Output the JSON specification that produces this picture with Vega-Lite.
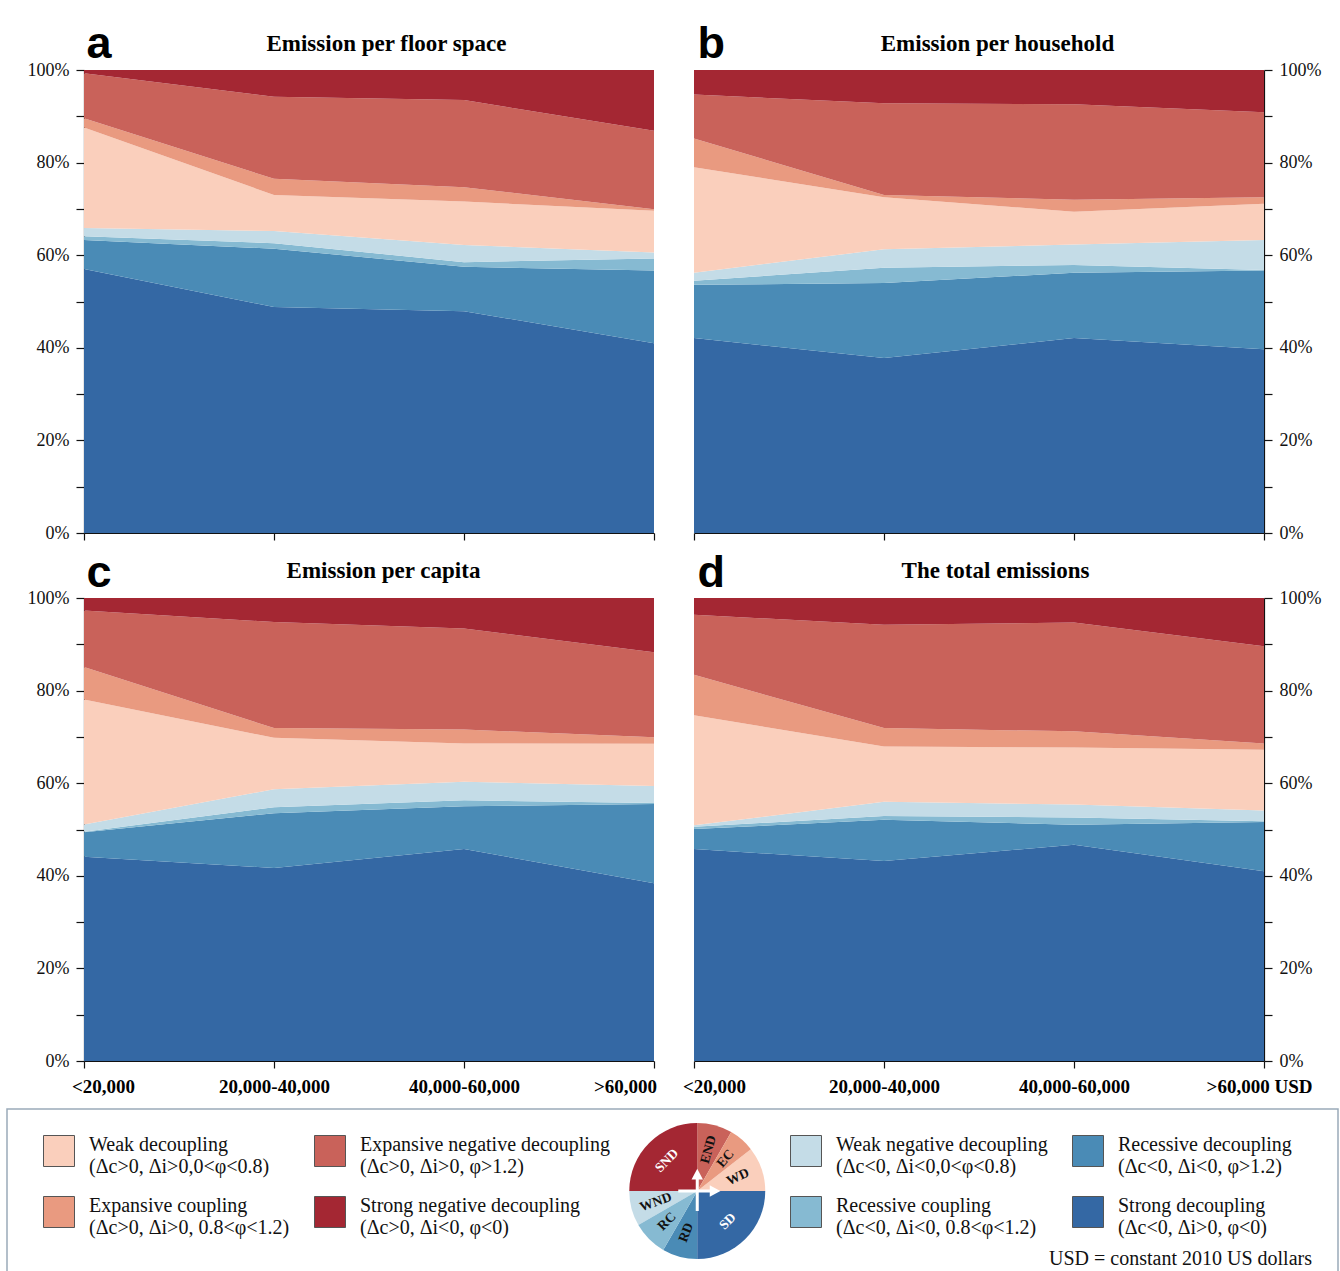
{
  "$schema": "https://vega.github.io/schema/vega-lite/v6.json",
  "background": "white",
  "padding": {"left": 6, "top": 21, "right": 0, "bottom": 0},
  "datasets": {
    "states": [
      {"code": "WD", "name": "Weak decoupling|(Δc>0, Δi>0,0<φ<0.8)", "k": 5, "pk": 3, "deg": 38},
      {"code": "END", "name": "Expansive negative decoupling|(Δc>0, Δi>0, φ>1.2)", "k": 7, "pk": 1, "deg": 30},
      {"code": "EC", "name": "Expansive coupling|(Δc>0, Δi>0, 0.8<φ<1.2)", "k": 6, "pk": 2, "deg": 22},
      {"code": "SND", "name": "Strong negative decoupling|(Δc>0, Δi<0, φ<0)", "k": 8, "pk": 8, "deg": 90},
      {"code": "WND", "name": "Weak negative decoupling|(Δc<0, Δi<0,0<φ<0.8)", "k": 4, "pk": 7, "deg": 30},
      {"code": "RD", "name": "Recessive decoupling|(Δc<0, Δi<0, φ>1.2)", "k": 2, "pk": 5, "deg": 30},
      {"code": "RC", "name": "Recessive coupling|(Δc<0, Δi<0, 0.8<φ<1.2)", "k": 3, "pk": 6, "deg": 30},
      {"code": "SD", "name": "Strong decoupling|(Δc<0, Δi>0, φ<0)", "k": 1, "pk": 4, "deg": 90}
    ],
    "panels": [
      {"p": "a", "inc": "<20,000", "s": "SD", "v": 57.0}, {"p": "a", "inc": "20,000-40,000", "s": "SD", "v": 48.8}, {"p": "a", "inc": "40,000-60,000", "s": "SD", "v": 47.9}, {"p": "a", "inc": ">60,000", "s": "SD", "v": 41.0},
      {"p": "a", "inc": "<20,000", "s": "RD", "v": 6.3}, {"p": "a", "inc": "20,000-40,000", "s": "RD", "v": 12.6}, {"p": "a", "inc": "40,000-60,000", "s": "RD", "v": 9.6}, {"p": "a", "inc": ">60,000", "s": "RD", "v": 15.7},
      {"p": "a", "inc": "<20,000", "s": "RC", "v": 0.8}, {"p": "a", "inc": "20,000-40,000", "s": "RC", "v": 1.2}, {"p": "a", "inc": "40,000-60,000", "s": "RC", "v": 1.0}, {"p": "a", "inc": ">60,000", "s": "RC", "v": 2.6},
      {"p": "a", "inc": "<20,000", "s": "WND", "v": 1.8}, {"p": "a", "inc": "20,000-40,000", "s": "WND", "v": 2.6}, {"p": "a", "inc": "40,000-60,000", "s": "WND", "v": 3.7}, {"p": "a", "inc": ">60,000", "s": "WND", "v": 1.3},
      {"p": "a", "inc": "<20,000", "s": "WD", "v": 21.7}, {"p": "a", "inc": "20,000-40,000", "s": "WD", "v": 7.8}, {"p": "a", "inc": "40,000-60,000", "s": "WD", "v": 9.4}, {"p": "a", "inc": ">60,000", "s": "WD", "v": 9.0},
      {"p": "a", "inc": "<20,000", "s": "EC", "v": 2.0}, {"p": "a", "inc": "20,000-40,000", "s": "EC", "v": 3.5}, {"p": "a", "inc": "40,000-60,000", "s": "EC", "v": 3.1}, {"p": "a", "inc": ">60,000", "s": "EC", "v": 0.3},
      {"p": "a", "inc": "<20,000", "s": "END", "v": 9.7}, {"p": "a", "inc": "20,000-40,000", "s": "END", "v": 17.7}, {"p": "a", "inc": "40,000-60,000", "s": "END", "v": 18.8}, {"p": "a", "inc": ">60,000", "s": "END", "v": 17.0},
      {"p": "a", "inc": "<20,000", "s": "SND", "v": 0.7}, {"p": "a", "inc": "20,000-40,000", "s": "SND", "v": 5.8}, {"p": "a", "inc": "40,000-60,000", "s": "SND", "v": 6.5}, {"p": "a", "inc": ">60,000", "s": "SND", "v": 13.1},

      {"p": "b", "inc": "<20,000", "s": "SD", "v": 42.1}, {"p": "b", "inc": "20,000-40,000", "s": "SD", "v": 37.8}, {"p": "b", "inc": "40,000-60,000", "s": "SD", "v": 42.1}, {"p": "b", "inc": ">60,000", "s": "SD", "v": 39.7},
      {"p": "b", "inc": "<20,000", "s": "RD", "v": 11.5}, {"p": "b", "inc": "20,000-40,000", "s": "RD", "v": 16.2}, {"p": "b", "inc": "40,000-60,000", "s": "RD", "v": 14.1}, {"p": "b", "inc": ">60,000", "s": "RD", "v": 17.0},
      {"p": "b", "inc": "<20,000", "s": "RC", "v": 0.9}, {"p": "b", "inc": "20,000-40,000", "s": "RC", "v": 3.3}, {"p": "b", "inc": "40,000-60,000", "s": "RC", "v": 1.7}, {"p": "b", "inc": ">60,000", "s": "RC", "v": 0.1},
      {"p": "b", "inc": "<20,000", "s": "WND", "v": 1.7}, {"p": "b", "inc": "20,000-40,000", "s": "WND", "v": 4.0}, {"p": "b", "inc": "40,000-60,000", "s": "WND", "v": 4.4}, {"p": "b", "inc": ">60,000", "s": "WND", "v": 6.5},
      {"p": "b", "inc": "<20,000", "s": "WD", "v": 22.8}, {"p": "b", "inc": "20,000-40,000", "s": "WD", "v": 11.2}, {"p": "b", "inc": "40,000-60,000", "s": "WD", "v": 7.1}, {"p": "b", "inc": ">60,000", "s": "WD", "v": 7.8},
      {"p": "b", "inc": "<20,000", "s": "EC", "v": 6.2}, {"p": "b", "inc": "20,000-40,000", "s": "EC", "v": 0.5}, {"p": "b", "inc": "40,000-60,000", "s": "EC", "v": 2.6}, {"p": "b", "inc": ">60,000", "s": "EC", "v": 1.4},
      {"p": "b", "inc": "<20,000", "s": "END", "v": 9.5}, {"p": "b", "inc": "20,000-40,000", "s": "END", "v": 19.8}, {"p": "b", "inc": "40,000-60,000", "s": "END", "v": 20.6}, {"p": "b", "inc": ">60,000", "s": "END", "v": 18.4},
      {"p": "b", "inc": "<20,000", "s": "SND", "v": 5.3}, {"p": "b", "inc": "20,000-40,000", "s": "SND", "v": 7.2}, {"p": "b", "inc": "40,000-60,000", "s": "SND", "v": 7.4}, {"p": "b", "inc": ">60,000", "s": "SND", "v": 9.1},

      {"p": "c", "inc": "<20,000", "s": "SD", "v": 44.1}, {"p": "c", "inc": "20,000-40,000", "s": "SD", "v": 41.7}, {"p": "c", "inc": "40,000-60,000", "s": "SD", "v": 45.8}, {"p": "c", "inc": ">60,000", "s": "SD", "v": 38.4},
      {"p": "c", "inc": "<20,000", "s": "RD", "v": 5.3}, {"p": "c", "inc": "20,000-40,000", "s": "RD", "v": 11.8}, {"p": "c", "inc": "40,000-60,000", "s": "RD", "v": 9.2}, {"p": "c", "inc": ">60,000", "s": "RD", "v": 17.1},
      {"p": "c", "inc": "<20,000", "s": "RC", "v": 0.1}, {"p": "c", "inc": "20,000-40,000", "s": "RC", "v": 1.3}, {"p": "c", "inc": "40,000-60,000", "s": "RC", "v": 1.3}, {"p": "c", "inc": ">60,000", "s": "RC", "v": 0.2},
      {"p": "c", "inc": "<20,000", "s": "WND", "v": 1.6}, {"p": "c", "inc": "20,000-40,000", "s": "WND", "v": 3.9}, {"p": "c", "inc": "40,000-60,000", "s": "WND", "v": 4.0}, {"p": "c", "inc": ">60,000", "s": "WND", "v": 3.7},
      {"p": "c", "inc": "<20,000", "s": "WD", "v": 27.0}, {"p": "c", "inc": "20,000-40,000", "s": "WD", "v": 11.1}, {"p": "c", "inc": "40,000-60,000", "s": "WD", "v": 8.3}, {"p": "c", "inc": ">60,000", "s": "WD", "v": 9.1},
      {"p": "c", "inc": "<20,000", "s": "EC", "v": 7.0}, {"p": "c", "inc": "20,000-40,000", "s": "EC", "v": 2.1}, {"p": "c", "inc": "40,000-60,000", "s": "EC", "v": 3.0}, {"p": "c", "inc": ">60,000", "s": "EC", "v": 1.4},
      {"p": "c", "inc": "<20,000", "s": "END", "v": 12.2}, {"p": "c", "inc": "20,000-40,000", "s": "END", "v": 22.9}, {"p": "c", "inc": "40,000-60,000", "s": "END", "v": 21.8}, {"p": "c", "inc": ">60,000", "s": "END", "v": 18.4},
      {"p": "c", "inc": "<20,000", "s": "SND", "v": 2.7}, {"p": "c", "inc": "20,000-40,000", "s": "SND", "v": 5.2}, {"p": "c", "inc": "40,000-60,000", "s": "SND", "v": 6.6}, {"p": "c", "inc": ">60,000", "s": "SND", "v": 11.7},

      {"p": "d", "inc": "<20,000", "s": "SD", "v": 45.8}, {"p": "d", "inc": "20,000-40,000", "s": "SD", "v": 43.2}, {"p": "d", "inc": "40,000-60,000", "s": "SD", "v": 46.7}, {"p": "d", "inc": ">60,000", "s": "SD", "v": 41.0},
      {"p": "d", "inc": "<20,000", "s": "RD", "v": 4.3}, {"p": "d", "inc": "20,000-40,000", "s": "RD", "v": 8.9}, {"p": "d", "inc": "40,000-60,000", "s": "RD", "v": 4.3}, {"p": "d", "inc": ">60,000", "s": "RD", "v": 10.6},
      {"p": "d", "inc": "<20,000", "s": "RC", "v": 0.5}, {"p": "d", "inc": "20,000-40,000", "s": "RC", "v": 0.8}, {"p": "d", "inc": "40,000-60,000", "s": "RC", "v": 1.6}, {"p": "d", "inc": ">60,000", "s": "RC", "v": 0.2},
      {"p": "d", "inc": "<20,000", "s": "WND", "v": 0.3}, {"p": "d", "inc": "20,000-40,000", "s": "WND", "v": 3.1}, {"p": "d", "inc": "40,000-60,000", "s": "WND", "v": 2.8}, {"p": "d", "inc": ">60,000", "s": "WND", "v": 2.3},
      {"p": "d", "inc": "<20,000", "s": "WD", "v": 23.8}, {"p": "d", "inc": "20,000-40,000", "s": "WD", "v": 11.9}, {"p": "d", "inc": "40,000-60,000", "s": "WD", "v": 12.3}, {"p": "d", "inc": ">60,000", "s": "WD", "v": 13.1},
      {"p": "d", "inc": "<20,000", "s": "EC", "v": 8.7}, {"p": "d", "inc": "20,000-40,000", "s": "EC", "v": 4.0}, {"p": "d", "inc": "40,000-60,000", "s": "EC", "v": 3.5}, {"p": "d", "inc": ">60,000", "s": "EC", "v": 1.4},
      {"p": "d", "inc": "<20,000", "s": "END", "v": 13.0}, {"p": "d", "inc": "20,000-40,000", "s": "END", "v": 22.3}, {"p": "d", "inc": "40,000-60,000", "s": "END", "v": 23.5}, {"p": "d", "inc": ">60,000", "s": "END", "v": 21.0},
      {"p": "d", "inc": "<20,000", "s": "SND", "v": 3.6}, {"p": "d", "inc": "20,000-40,000", "s": "SND", "v": 5.8}, {"p": "d", "inc": "40,000-60,000", "s": "SND", "v": 5.3}, {"p": "d", "inc": ">60,000", "s": "SND", "v": 10.4}
    ]
  },
  "spacing": 12,
  "vconcat": [
    {
      "spacing": 0,
      "hconcat": [
        {
          "width": 20, "height": 1,
          "view": {"fill": "#ffffff", "stroke": null},
          "data": {"values": []},
          "mark": "point",
          "encoding": {}
        },
        {
          "spacing": 8,
          "vconcat": [
            {
              "hconcat": [
                {
                  "width": 570, "height": 463,
                  "data": {"name": "panels"},
                  "transform": [{"filter": "datum.p == 'a'"}, {"lookup": "s", "from": {"data": {"name": "states"}, "key": "code", "fields": ["k"]}}],
                  "mark": {"type": "area", "interpolate": "linear"},
                  "encoding": {
                    "x": {"field": "inc", "type": "ordinal", "sort": ["<20,000", "20,000-40,000", "40,000-60,000", ">60,000"], "scale": {"type": "point", "padding": 0},
                      "axis": {"labels": false, "tickSize": 7, "title": "Emission per floor space", "titleX": 302, "titleY": -483, "titleFont": "Liberation Serif", "titleFontSize": 23, "titleFontWeight": "bold", "titleAlign": "center", "titleBaseline": "alphabetic", "titleColor": "#000"}},
                    "y": {"field": "v", "type": "quantitative", "stack": "zero", "scale": {"domain": [0, 100], "nice": false},
                      "axis": {"orient": "left", "values": [0, 10, 20, 30, 40, 50, 60, 70, 80, 90, 100], "labelExpr": "datum.value % 20 == 0 ? datum.value + '%' : ''", "tickSize": 8, "labelPadding": 7, "labelFontSize": 18, "title": "a", "titleX": 2, "titleY": -13, "titleAngle": 0, "titleAlign": "left", "titleBaseline": "alphabetic", "titleFont": "Liberation Sans", "titleFontSize": 45, "titleFontWeight": "bold", "titleColor": "#000"}},
                    "color": {"field": "s", "type": "nominal", "scale": {"domain": ["SD", "RD", "RC", "WND", "WD", "EC", "END", "SND"], "range": ["#3468a4", "#4a8bb6", "#86bad2", "#c4dce7", "#facfbc", "#e99a80", "#c9625a", "#a42733"]}, "legend": null},
                    "order": {"field": "k", "type": "quantitative"}
                  }
                },
                {
                  "width": 570, "height": 463,
                  "data": {"name": "panels"},
                  "transform": [{"filter": "datum.p == 'b'"}, {"lookup": "s", "from": {"data": {"name": "states"}, "key": "code", "fields": ["k"]}}],
                  "mark": {"type": "area", "interpolate": "linear"},
                  "encoding": {
                    "x": {"field": "inc", "type": "ordinal", "sort": ["<20,000", "20,000-40,000", "40,000-60,000", ">60,000"], "scale": {"type": "point", "padding": 0},
                      "axis": {"labels": false, "tickSize": 7, "title": "Emission per household", "titleX": 303, "titleY": -483, "titleFont": "Liberation Serif", "titleFontSize": 23, "titleFontWeight": "bold", "titleAlign": "center", "titleBaseline": "alphabetic", "titleColor": "#000"}},
                    "y": {"field": "v", "type": "quantitative", "stack": "zero", "scale": {"domain": [0, 100], "nice": false},
                      "axis": {"orient": "right", "values": [0, 10, 20, 30, 40, 50, 60, 70, 80, 90, 100], "labelExpr": "datum.value % 20 == 0 ? datum.value + '%' : ''", "tickSize": 8, "labelPadding": 7, "labelFontSize": 18, "title": "b", "titleX": -567, "titleY": -13, "titleAngle": 0, "titleAlign": "left", "titleBaseline": "alphabetic", "titleFont": "Liberation Sans", "titleFontSize": 45, "titleFontWeight": "bold", "titleColor": "#000"}},
                    "color": {"field": "s", "type": "nominal", "scale": {"domain": ["SD", "RD", "RC", "WND", "WD", "EC", "END", "SND"], "range": ["#3468a4", "#4a8bb6", "#86bad2", "#c4dce7", "#facfbc", "#e99a80", "#c9625a", "#a42733"]}, "legend": null},
                    "order": {"field": "k", "type": "quantitative"}
                  }
                }
              ],
              "spacing": 40,
              "bounds": "flush"
            },
            {
              "hconcat": [
                {
                  "width": 570, "height": 463,
                  "data": {"name": "panels"},
                  "transform": [{"filter": "datum.p == 'c'"}, {"lookup": "s", "from": {"data": {"name": "states"}, "key": "code", "fields": ["k"]}}],
                  "mark": {"type": "area", "interpolate": "linear"},
                  "encoding": {
                    "x": {"field": "inc", "type": "ordinal", "sort": ["<20,000", "20,000-40,000", "40,000-60,000", ">60,000"], "scale": {"type": "point", "padding": 0},
                      "axis": {"labels": true, "labelAngle": 0, "labelFont": "Liberation Serif", "labelFontWeight": "bold", "labelFontSize": 19, "labelColor": "#000", "labelPadding": 9,
                        "labelOffset": {"condition": [{"test": "datum.value == '<20,000'", "value": 19}, {"test": "datum.value == '>60,000'", "value": -29}], "value": 0},
                        "tickSize": 7, "title": "Emission per capita", "titleX": 299, "titleY": -484, "titleFont": "Liberation Serif", "titleFontSize": 23, "titleFontWeight": "bold", "titleAlign": "center", "titleBaseline": "alphabetic", "titleColor": "#000"}},
                    "y": {"field": "v", "type": "quantitative", "stack": "zero", "scale": {"domain": [0, 100], "nice": false},
                      "axis": {"orient": "left", "values": [0, 10, 20, 30, 40, 50, 60, 70, 80, 90, 100], "labelExpr": "datum.value % 20 == 0 ? datum.value + '%' : ''", "tickSize": 8, "labelPadding": 7, "labelFontSize": 18, "title": "c", "titleX": 2, "titleY": -12, "titleAngle": 0, "titleAlign": "left", "titleBaseline": "alphabetic", "titleFont": "Liberation Sans", "titleFontSize": 45, "titleFontWeight": "bold", "titleColor": "#000"}},
                    "color": {"field": "s", "type": "nominal", "scale": {"domain": ["SD", "RD", "RC", "WND", "WD", "EC", "END", "SND"], "range": ["#3468a4", "#4a8bb6", "#86bad2", "#c4dce7", "#facfbc", "#e99a80", "#c9625a", "#a42733"]}, "legend": null},
                    "order": {"field": "k", "type": "quantitative"}
                  }
                },
                {
                  "width": 570, "height": 463,
                  "data": {"name": "panels"},
                  "transform": [{"filter": "datum.p == 'd'"}, {"lookup": "s", "from": {"data": {"name": "states"}, "key": "code", "fields": ["k"]}}],
                  "mark": {"type": "area", "interpolate": "linear"},
                  "encoding": {
                    "x": {"field": "inc", "type": "ordinal", "sort": ["<20,000", "20,000-40,000", "40,000-60,000", ">60,000"], "scale": {"type": "point", "padding": 0},
                      "axis": {"labels": true, "labelAngle": 0, "labelFont": "Liberation Serif", "labelFontWeight": "bold", "labelFontSize": 19, "labelColor": "#000", "labelPadding": 9,
                        "labelExpr": "datum.value == '>60,000' ? '>60,000 USD' : datum.label",
                        "labelOffset": {"condition": [{"test": "datum.value == '<20,000'", "value": 20}, {"test": "datum.value == '>60,000'", "value": -5}], "value": 0},
                        "tickSize": 7, "title": "The total emissions", "titleX": 301, "titleY": -484, "titleFont": "Liberation Serif", "titleFontSize": 23, "titleFontWeight": "bold", "titleAlign": "center", "titleBaseline": "alphabetic", "titleColor": "#000"}},
                    "y": {"field": "v", "type": "quantitative", "stack": "zero", "scale": {"domain": [0, 100], "nice": false},
                      "axis": {"orient": "right", "values": [0, 10, 20, 30, 40, 50, 60, 70, 80, 90, 100], "labelExpr": "datum.value % 20 == 0 ? datum.value + '%' : ''", "tickSize": 8, "labelPadding": 7, "labelFontSize": 18, "title": "d", "titleX": -567, "titleY": -12, "titleAngle": 0, "titleAlign": "left", "titleBaseline": "alphabetic", "titleFont": "Liberation Sans", "titleFontSize": 45, "titleFontWeight": "bold", "titleColor": "#000"}},
                    "color": {"field": "s", "type": "nominal", "scale": {"domain": ["SD", "RD", "RC", "WND", "WD", "EC", "END", "SND"], "range": ["#3468a4", "#4a8bb6", "#86bad2", "#c4dce7", "#facfbc", "#e99a80", "#c9625a", "#a42733"]}, "legend": null},
                    "order": {"field": "k", "type": "quantitative"}
                  }
                }
              ],
              "spacing": 40,
              "bounds": "flush"
            }
          ]
        }
      ]
    },
    {
      "width": 1331, "height": 164,
      "view": {"stroke": "#9aabb9", "strokeWidth": 1.5},
      "data": {"name": "states"},
      "title": {"text": "USD = constant 2010 US dollars", "orient": "bottom", "anchor": "end", "frame": "group", "offset": -8, "dx": -26, "baseline": "alphabetic", "font": "Liberation Serif", "fontSize": 20, "fontWeight": "normal", "color": "#111"},
      "layer": [
        {
          "transform": [{"stack": "deg", "groupby": [], "sort": [{"field": "pk", "order": "ascending"}], "as": ["t0", "t1"]}, {"filter": "datum.k >= 5"}],
          "mark": {"type": "arc", "outerRadius": 68, "xOffset": 24.75},
          "encoding": {
            "theta": {"field": "t0", "type": "quantitative", "scale": {"domain": [0, 360]}},
            "theta2": {"field": "t1"},
            "color": {"field": "name", "type": "nominal",
              "scale": {"domain": ["Weak decoupling|(Δc>0, Δi>0,0<φ<0.8)", "Expansive coupling|(Δc>0, Δi>0, 0.8<φ<1.2)", "Expansive negative decoupling|(Δc>0, Δi>0, φ>1.2)", "Strong negative decoupling|(Δc>0, Δi<0, φ<0)"], "range": ["#facfbc", "#e99a80", "#c9625a", "#a42733"]},
              "legend": {"orient": "none", "legendX": 36, "legendY": 26, "columns": 2, "columnPadding": 22, "rowPadding": 17, "title": null, "padding": 0, "symbolType": "square", "symbolSize": 961, "symbolStrokeColor": "#555", "symbolStrokeWidth": 1, "labelFont": "Liberation Serif", "labelFontSize": 20, "labelColor": "#111", "labelOffset": 14, "labelLimit": 500, "labelBaseline": "alphabetic", "labelExpr": "split(datum.label, '|')"}}
          }
        },
        {
          "transform": [{"stack": "deg", "groupby": [], "sort": [{"field": "pk", "order": "ascending"}], "as": ["t0", "t1"]}, {"filter": "datum.k <= 4"}],
          "mark": {"type": "arc", "outerRadius": 68, "xOffset": 24.75},
          "encoding": {
            "theta": {"field": "t0", "type": "quantitative", "scale": {"domain": [0, 360]}},
            "theta2": {"field": "t1"},
            "color": {"field": "name", "type": "nominal",
              "scale": {"domain": ["Weak negative decoupling|(Δc<0, Δi<0,0<φ<0.8)", "Recessive coupling|(Δc<0, Δi<0, 0.8<φ<1.2)", "Recessive decoupling|(Δc<0, Δi<0, φ>1.2)", "Strong decoupling|(Δc<0, Δi>0, φ<0)"], "range": ["#c4dce7", "#86bad2", "#4a8bb6", "#3468a4"]},
              "legend": {"orient": "none", "legendX": 783, "legendY": 26, "columns": 2, "columnPadding": 22, "rowPadding": 17, "title": null, "padding": 0, "symbolType": "square", "symbolSize": 961, "symbolStrokeColor": "#555", "symbolStrokeWidth": 1, "labelFont": "Liberation Serif", "labelFontSize": 20, "labelColor": "#111", "labelOffset": 14, "labelLimit": 500, "labelBaseline": "alphabetic", "labelExpr": "split(datum.label, '|')"}}
          }
        },
        {
          "mark": {"type": "text", "radius": 43, "xOffset": 24.75, "font": "Liberation Serif", "fontWeight": "bold", "fontSize": 13.5},
          "encoding": {
            "theta": {"field": "deg", "type": "quantitative", "stack": true, "scale": {"domain": [0, 360]}},
            "order": {"field": "pk", "type": "quantitative"},
            "detail": {"field": "code"},
            "text": {"field": "code"},
            "angle": {"field": "code", "type": "nominal", "scale": {"type": "ordinal", "domain": ["SND", "END", "EC", "WD", "SD", "RD", "RC", "WND"], "range": [-45, -75, -50, -25, -45, -68, -45, -20]}, "legend": null},
            "color": {"condition": {"test": "datum.code == 'SND' || datum.code == 'SD'", "value": "#ffffff"}, "value": "#111111"}
          }
        },
        {
          "transform": [{"filter": "datum.pk == 1"}],
          "mark": {"type": "point", "shape": "M-0.95,0L0.85,0M0,1L0,-0.8M0.7,-0.16L1,0L0.7,0.16ZM-0.16,-0.65L0,-0.95L0.16,-0.65Z", "size": 1600, "filled": true, "fill": "#ffffff", "stroke": "#ffffff", "strokeWidth": 3, "opacity": 1, "xOffset": 24.75},
          "encoding": {}
        }
      ],
      "resolve": {"scale": {"color": "independent"}, "legend": {"color": "independent"}}
    }
  ],
  "config": {
    "view": {"stroke": null},
    "axis": {"domainColor": "#111", "domainWidth": 1.2, "tickColor": "#111", "tickWidth": 1.2, "labelColor": "#111", "labelFont": "Liberation Serif", "grid": false},
    "legend": {"padding": 0}
  }
}
